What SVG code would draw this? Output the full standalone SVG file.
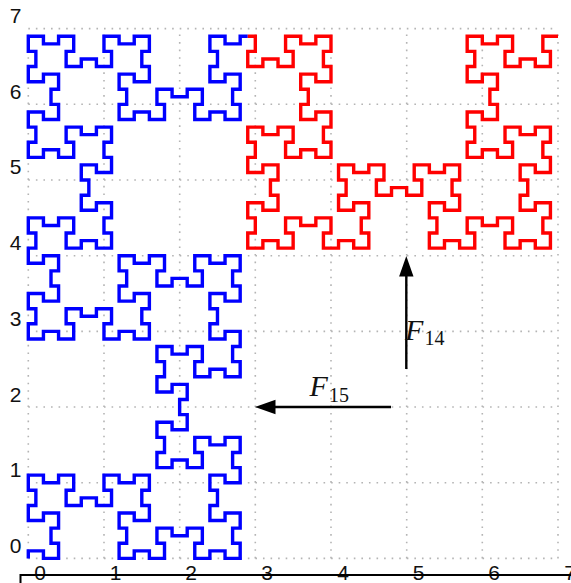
<svg xmlns="http://www.w3.org/2000/svg" width="571" height="583" viewBox="0 0 571 583">
<style>
.grid{stroke:#b4b4b4;stroke-width:1.6;stroke-dasharray:1.6 5.97;fill:none}
.curve{fill:none;stroke-width:3.4;stroke-linejoin:miter;stroke-linecap:butt;vector-effect:non-scaling-stroke}
.lab{font-family:"Liberation Sans",Arial,sans-serif;font-size:21px;fill:#111;text-anchor:middle}
.f{font-family:"Liberation Serif","Times New Roman",serif;font-style:italic;font-size:30px;fill:#111}
.s{font-family:"Liberation Serif","Times New Roman",serif;font-size:20px;fill:#111}
.arrow{stroke:#000;stroke-width:2.4;fill:none}
</style>
<rect width="571" height="583" fill="#fff"/>
<g id="grid" class="grid">
<path d="M28.3 558.4V28.5M104 558.4V28.5M179.7 558.4V28.5M255.3 558.4V28.5M331 558.4V28.5M406.7 558.4V28.5M482.3 558.4V28.5M558 558.4V28.5"/>
<path d="M28.3 558.4H558M28.3 482.7H558M28.3 407H558M28.3 331.4H558M28.3 255.7H558M28.3 180H558M28.3 104.3H558M28.3 28.6H558"/>
</g>
<g id="curves" transform="translate(28.3 558.4) scale(7.567 -7.567)">
<path id="F15-curve" class="curve" stroke="#0000ff" d="M0 0V1H2V0H4V2H3V4H4V6H2V5H0V7H1V9H0V11H2V10H4V11H6V9H5V7H7V8H9V7H11V9H10V11H12V10H14V11H16V9H15V7H16V5H14V6H12V4H13V2H12V0H14V1H16V0H18V2H17V4H19V3H21V4H23V2H22V0H24V1H26V0H28V2H27V4H28V6H26V5H24V7H25V9H24V11H26V10H28V12H27V14H28V16H26V15H24V16H22V14H23V12H21V13H19V12H17V14H18V16H17V18H19V17H21V19H20V21H21V23H19V22H17V24H18V26H17V28H19V27H21V28H23V26H22V24H24V25H26V24H28V26H27V28H28V30H26V29H24V31H25V33H24V35H26V34H28V36H27V38H28V40H26V39H24V40H22V38H23V36H21V37H19V36H17V38H18V40H16V39H14V40H12V38H13V36H12V34H14V35H16V33H15V31H16V29H14V30H12V29H10V31H11V33H9V32H7V33H5V31H6V29H4V30H2V29H0V31H1V33H0V35H2V34H4V36H3V38H4V40H2V39H0V41H1V43H0V45H2V44H4V45H6V43H5V41H7V42H9V41H11V43H10V45H11V47H9V46H7V48H8V50H7V52H9V51H11V53H10V55H11V57H9V56H7V57H5V55H6V53H4V54H2V53H0V55H1V57H0V59H2V58H4V60H3V62H4V64H2V63H0V65H1V67H0V69H2V68H4V69H6V67H5V65H7V66H9V65H11V67H10V69H12V68H14V69H16V67H15V65H16V63H14V64H12V62H13V60H12V58H14V59H16V58H18V60H17V62H19V61H21V62H23V60H22V58H24V59H26V58H28V60H27V62H28V64H26V63H24V65H25V67H24V69H26V68H28V69H29"/>
<path id="F14-curve" class="curve" stroke="#ff0000" d="M29 69H30V67H29V65H31V66H33V65H35V67H34V69H36V68H38V69H40V67H39V65H40V63H38V64H36V62H37V60H36V58H38V59H40V57H39V55H40V53H38V54H36V53H34V55H35V57H33V56H31V57H29V55H30V53H29V51H31V52H33V50H32V48H33V46H31V47H29V45H30V43H29V41H31V42H33V41H35V43H34V45H36V44H38V45H40V43H39V41H41V42H43V41H45V43H44V45H45V47H43V46H41V48H42V50H41V52H43V51H45V52H47V50H46V48H48V49H50V48H52V50H51V52H53V51H55V52H57V50H56V48H57V46H55V47H53V45H54V43H53V41H55V42H57V41H59V43H58V45H60V44H62V45H64V43H63V41H65V42H67V41H69V43H68V45H69V47H67V46H65V48H66V50H65V52H67V51H69V53H68V55H69V57H67V56H65V57H63V55H64V53H62V54H60V53H58V55H59V57H58V59H60V58H62V60H61V62H62V64H60V63H58V65H59V67H58V69H60V68H62V69H64V67H63V65H65V66H67V65H69V67H68V69H70"/>
</g>
<g id="y-labels">
<text class="lab" x="15.5" y="552.8">0</text>
<text class="lab" x="15.5" y="477">1</text>
<text class="lab" x="15.5" y="401.5">2</text>
<text class="lab" x="15.5" y="326">3</text>
<text class="lab" x="15.5" y="250">4</text>
<text class="lab" x="15.5" y="174.4">5</text>
<text class="lab" x="15.5" y="99">6</text>
<text class="lab" x="15.5" y="23">7</text>
</g>
<g id="x-labels">
<text class="lab" x="40" y="580">0</text>
<text class="lab" x="115.5" y="580">1</text>
<text class="lab" x="191" y="580">2</text>
<text class="lab" x="267" y="580">3</text>
<text class="lab" x="343" y="580">4</text>
<text class="lab" x="418.5" y="580">5</text>
<text class="lab" x="494" y="580">6</text>
<text class="lab" x="570" y="580">7</text>
</g>
<g id="axis"><path d="M20.5 583V575H571" fill="none" stroke="#000" stroke-width="2"/></g>
<g id="connectors">
<path class="arrow" d="M406.3 369V272"/>
<path d="M406.3 256L413.5 276.5H399.1Z" fill="#000"/>
<path class="arrow" d="M391 407H271"/>
<path d="M255 407L275.5 399.8V414.2Z" fill="#000"/>
</g>
<g id="F14"><text class="f" x="405" y="340">F</text><text class="s" x="424.5" y="344.5">14</text></g>
<g id="F15"><text class="f" x="309.5" y="396">F</text><text class="s" x="329" y="402">15</text></g>
</svg>
